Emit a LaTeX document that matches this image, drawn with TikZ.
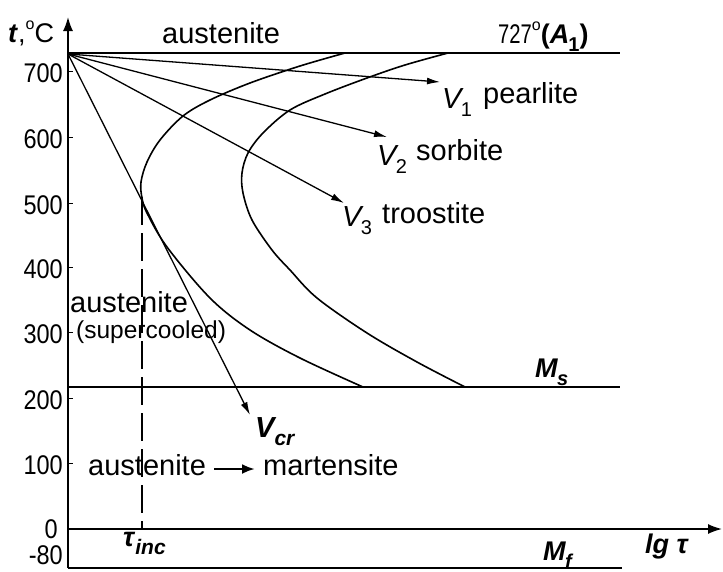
\documentclass[tikz,border=0pt]{standalone}
\usepackage{fontspec}
\setmainfont{Liberation Sans}
\usetikzlibrary{arrows.meta}
\newcommand\lowidx[2][20]{\raisebox{-0.3em}{\fontsize{#1}{#1}\selectfont #2}}
\begin{document}
\begin{tikzpicture}[x=1pt,y=-1pt,
  lbl/.style={inner sep=0pt, anchor=base west, font=\fontsize{29}{32}\selectfont},
  ticklbl/.style={inner sep=0pt, anchor=east, font=\fontsize{27}{30}\selectfont},
  tickmark/.style={line width=1pt},
  axis/.style={line width=1.6pt, -{Latex[length=14pt,width=10pt]}},
  hline/.style={line width=1.4pt},
  thickhline/.style={line width=2.8pt},
  ccurve/.style={line width=1.6pt},
  cool/.style={line width=1.3pt, -{Latex[length=13pt,width=7pt]}},
  dashline/.style={line width=1.3pt, dash pattern=on 28pt off 8pt}]
\useasboundingbox (0,0) rectangle (723,571);
% axes
\coordinate (ybot) at (68,568);
\coordinate (ytop) at (68,17);
\coordinate (xl) at (68,529);
\coordinate (xr) at (722,529);
\draw[axis] (ybot) -- (ytop);
\draw[axis] (xl) -- (xr);
% ticks
\foreach \v/\yy in {700/71,600/137,500/203,400/267,300/332,200/398,100/463}{
  \draw[tickmark] (68,\yy) -- (73,\yy);
  \node[ticklbl] (t\v) at (63,\yy+2) {\scalebox{0.87}[1]{\v}};
}
\node[ticklbl] (t0) at (58,529) {\scalebox{0.87}[1]{0}};
\node[ticklbl] (tm80) at (63,555) {\scalebox{0.87}[1]{-80}};
% horizontal lines
\coordinate (Al) at (68,53);
\coordinate (Ar) at (620,53);
\draw[hline] (Al) -- (Ar);
\coordinate (Msl) at (68,387);
\coordinate (Msr) at (620,387);
\draw[thickhline] (Msl) -- (Msr);
\coordinate (Mfl) at (68,568);
\coordinate (Mfr) at (622,568);
\draw[hline] (Mfl) -- (Mfr);
% C curves
\draw[ccurve] plot[smooth, tension=0.55] coordinates {(345,53) (300,66) (250,83) (210,100) (183,116) (160,140) (147,162) (141,182) (142,198) (147,213) (167,247) (210,298) (250,330) (300,358) (363,387)};
\draw[ccurve] plot[smooth, tension=0.55] coordinates {(448,53) (405,65) (367,78) (325,94) (290,110) (263,133) (248,153) (242,173) (243,193) (252,220) (272,250) (290,270) (317,298) (367,333) (417,362) (465,387)};
% dashed incubation line
\coordinate (dtop) at (142,197);
\coordinate (dbot) at (142,529);
\draw[dashline] (dtop) -- (dbot);
% cooling curves
\coordinate (O) at (68,54);
\coordinate (v1tip) at (440,82);
\coordinate (v2tip) at (387,137);
\coordinate (v3tip) at (344,203);
\coordinate (vcrtip) at (250,415);
\draw[cool] (O) -- (v1tip);
\draw[cool] (O) -- (v2tip);
\draw[cool] (O) -- (v3tip);
\draw[cool] (O) -- (vcrtip);
% labels
\node[lbl, font=\fontsize{27}{30}\selectfont] (tC) at (8,42) {\textbf{\textit{t}},\raisebox{0.45em}{\fontsize{16}{16}\selectfont o}C};
\node[lbl] (austop) at (162,43) {austenite};
\node[lbl, font=\fontsize{27}{30}\selectfont] (A1) at (498,43) {\scalebox{0.75}[1]{727}\raisebox{0.45em}{\fontsize{16}{16}\selectfont o}\textbf{(\textit{A}\kern-1pt\lowidx{1})}};
\node[lbl] (V1) at (442,108) {\textit{V}\kern-3pt\lowidx{1}};
\node[lbl] (pearl) at (483,103) {pearlite};
\node[lbl] (V2) at (377,165) {\textit{V}\kern-3pt\lowidx{2}};
\node[lbl] (sorb) at (416,160) {sorbite};
\node[lbl] (V3) at (342,226) {\textit{V}\kern-3pt\lowidx{3}};
\node[lbl] (troo) at (382,223) {troostite};
\node[lbl] (Vcr) at (255,437) {\textbf{\textit{V}\kern-2pt\lowidx[21]{\textit{cr}}}};
\node[lbl] (ausmid) at (70,312) {austenite};
\node[lbl, font=\fontsize{24.5}{27}\selectfont] (super) at (76,338) {(supercooled)};
\node[lbl] (ausbot) at (88,475) {austenite};
\node[lbl] (mart) at (263,475) {martensite};
\draw[line width=2.8pt, -{Latex[length=13pt,width=10pt]}] ([xshift=8pt,yshift=6pt]ausbot.base east) -- ([xshift=-8pt,yshift=6pt]mart.base west);
\node[lbl, font=\fontsize{27}{30}\selectfont] (Ms) at (535,377) {\textbf{\textit{M}\kern-1pt\lowidx{\textit{s}}}};
\node[lbl, font=\fontsize{27}{30}\selectfont] (Mf) at (543,560) {\textbf{\textit{M}\kern-1pt\lowidx{\textit{f}}}};
\node[lbl, font=\fontsize{27}{30}\selectfont] (lgt) at (645,553) {\textbf{\textit{lg τ}}};
\node[lbl, font=\fontsize{27}{30}\selectfont] (tinc) at (123,546) {\textbf{\textit{τ}\lowidx[21]{\textit{inc}}}};
\end{tikzpicture}
\end{document}
